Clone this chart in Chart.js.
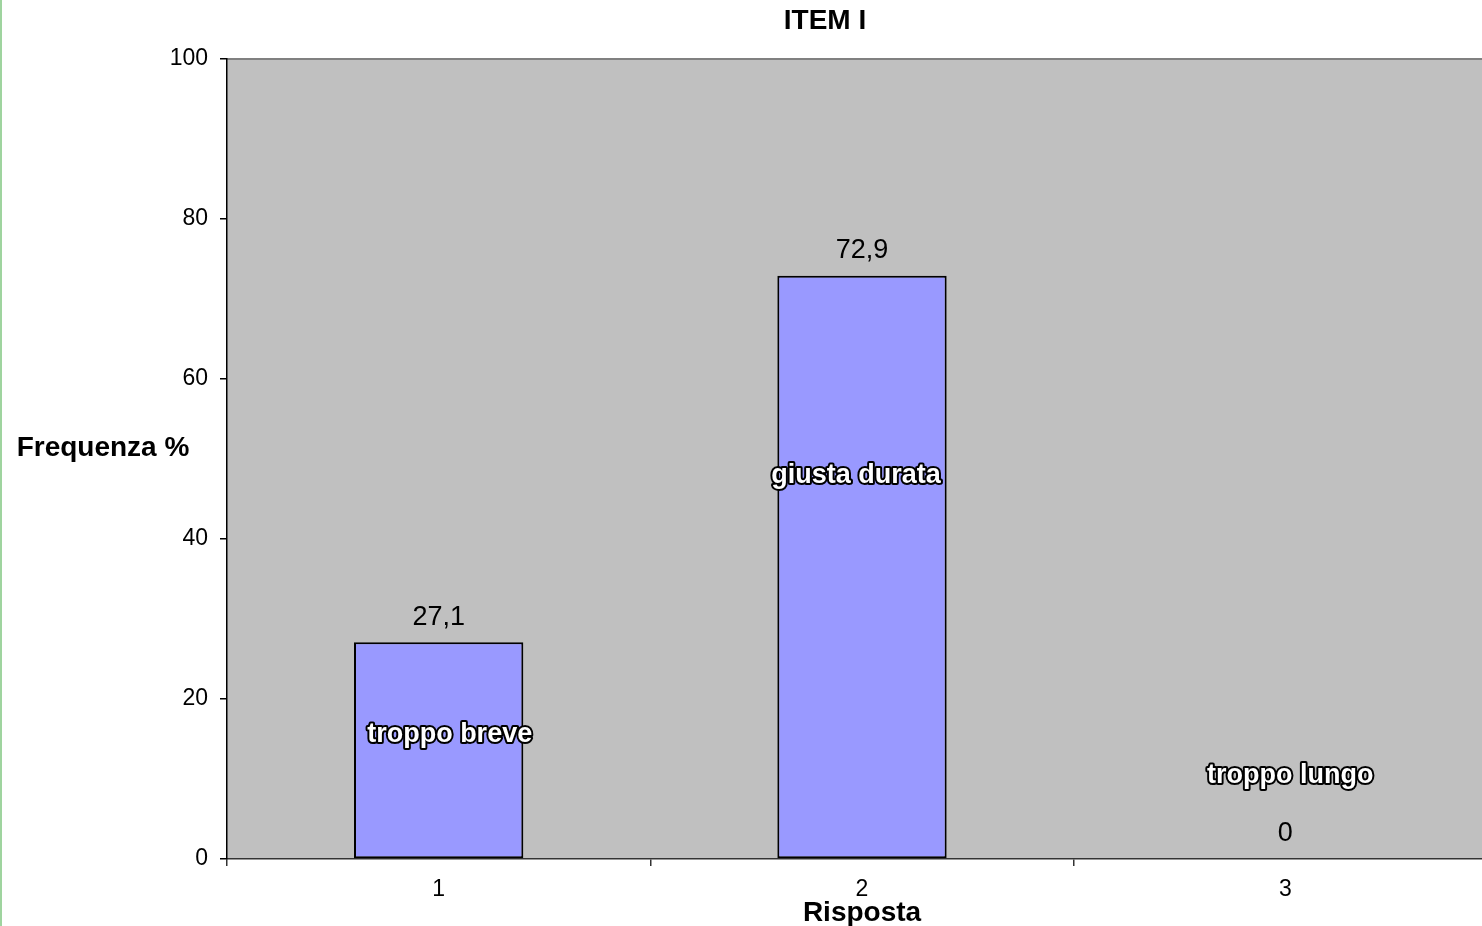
<!DOCTYPE html>
<html>
<head>
<meta charset="utf-8">
<script src="https://cdn.jsdelivr.net/npm/chart.js@4.4.0/dist/chart.umd.min.js"></script>
<style>
    html, body { margin: 0; padding: 0; background: #fff; overflow: hidden; width: 1482px; height: 926px; }
    #edge { position: absolute; left: 0; top: 0; width: 2px; height: 926px; background: #9fd49f; z-index: 2; }
    canvas { display: block; }
</style>
</head>
<body>
<div id="edge"></div>
<canvas id="chart" width="1497" height="926"></canvas>
<script>
const categories = ['1', '2', '3'];
const frequenza = [27.1, 72.9, 0];
const risposte = ['troppo breve', 'giusta durata', 'troppo lungo'];
const rispostaAt = [15.6, 47.9, 10.4];   // altezza (in %) delle scritte dentro il grafico
const rispostaShift = [11, -6, 5];       // piccolo spostamento orizzontale delle scritte
const yTicks = [0, 20, 40, 60, 80, 100];

const FONT = '"Liberation Sans", Arial, sans-serif';
Chart.defaults.font.family = FONT;
Chart.defaults.color = '#000';

// sfondo grigio + scritte
const decor = {
    id: 'decor',
    beforeDraw(chart) {
        const { ctx, chartArea: a } = chart;
        ctx.save();
        ctx.fillStyle = '#c0c0c0';
        ctx.fillRect(a.left, a.top, a.right - a.left, a.bottom - a.top);
        ctx.strokeStyle = '#808080';
        ctx.lineWidth = 2;
        ctx.beginPath();
        ctx.moveTo(a.left, a.top);
        ctx.lineTo(a.right, a.top);
        ctx.stroke();
        ctx.restore();
    },
    afterDatasetsDraw(chart) {
        const { ctx, scales: { y } } = chart;
        const bars = chart.getDatasetMeta(0).data;
        ctx.save();
        ctx.textAlign = 'center';
        ctx.textBaseline = 'middle';

        // valori sopra le barre
        ctx.fillStyle = '#000';
        ctx.font = '27px ' + FONT;
        bars.forEach((b, i) => {
            ctx.fillText(String(frequenza[i]).replace('.', ','), b.x, b.y - 25);
        });

        // nomi delle risposte (bianco con contorno nero)
        ctx.font = 'bold 27px ' + FONT;
        ctx.lineJoin = 'round';
        ctx.lineWidth = 4;
        ctx.strokeStyle = '#000';
        ctx.fillStyle = '#fff';
        risposte.forEach((t, i) => {
            const px = bars[i].x + rispostaShift[i];
            const py = y.getPixelForValue(rispostaAt[i]);
            ctx.strokeText(t, px, py);
            ctx.fillText(t, px, py);
        });

        // titoli
        ctx.fillStyle = '#000';
        ctx.font = 'bold 28px ' + FONT;
        ctx.fillText('ITEM I', 825, 21);
        ctx.fillText('Frequenza %', 103, 448);
        ctx.fillText('Risposta', 862, 913);
        ctx.restore();
    }
};

new Chart(document.getElementById('chart'), {
    type: 'bar',
    data: {
        labels: categories,
        datasets: [{
            data: frequenza,
            backgroundColor: '#9999ff',
            borderColor: '#000',
            borderWidth: 2,
            borderSkipped: false,
            barPercentage: 0.4,
            categoryPercentage: 1
        }]
    },
    options: {
        responsive: false,
        animation: false,
        devicePixelRatio: 1,
        layout: { padding: { top: 59, left: 0, right: 0, bottom: 0 } },
        plugins: { legend: { display: false }, tooltip: { enabled: false } },
        scales: {
            x: {
                grid: { offset: true, drawOnChartArea: false, drawTicks: true, tickLength: 7, color: '#333', lineWidth: 1.5 },
                border: { color: '#333', width: 1.5 },
                ticks: { font: { size: 23 }, padding: 10, maxRotation: 0 },
                afterFit(scale) { scale.height = 67; }
            },
            y: {
                min: 0,
                max: 100,
                grid: { drawOnChartArea: false, drawTicks: true, tickLength: 7, color: '#000', lineWidth: 1.5 },
                border: { color: '#000', width: 1.5 },
                ticks: { font: { size: 23 }, padding: 12, stepSize: 20 },
                afterBuildTicks(scale) { scale.ticks = yTicks.map(v => ({ value: v })); },
                afterFit(scale) { scale.width = 227; }
            }
        }
    },
    plugins: [decor]
});
</script>
</body>
</html>
